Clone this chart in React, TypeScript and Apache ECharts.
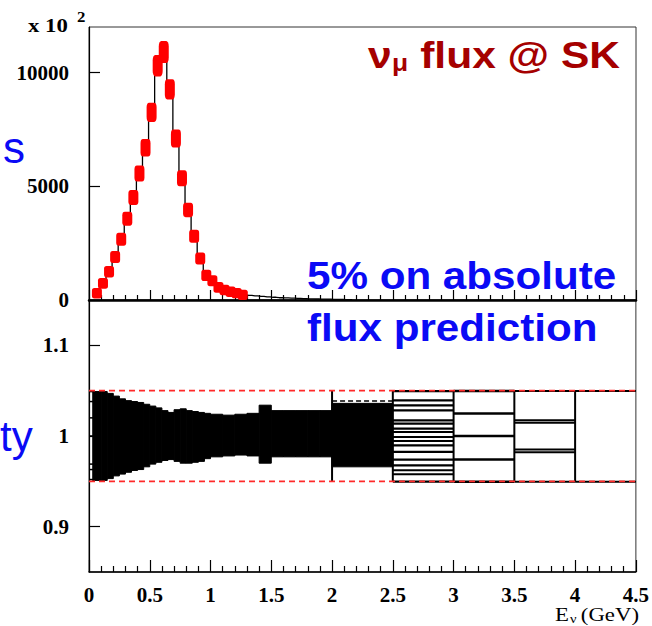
import React, { useEffect, useRef } from 'react';
import * as echarts from 'echarts';

// ---------- data ----------
const xTickValues = [0, 0.5, 1, 1.5, 2, 2.5, 3, 3.5, 4, 4.5];
const fluxTickLabels = [0, 5000, 10000];
const ratioTickLabels = [0.9, 1, 1.1];

// flux histogram (x 10^2), bin centres in GeV
const fluxCenters = [0.065, 0.115, 0.165, 0.215, 0.265, 0.315, 0.365, 0.415, 0.465, 0.515, 0.565, 0.615, 0.665, 0.715, 0.765, 0.815, 0.865, 0.915, 0.965, 1.015, 1.065, 1.115, 1.165, 1.215, 1.265];
const fluxValues = [295, 734, 1244, 1890, 2668, 3570, 4510, 5560, 6690, 8250, 10300, 10900, 9262, 7100, 5350, 3956, 2800, 1820, 1080, 850, 557, 440, 366, 300, 230];
const tailCenters = [1.315, 1.365, 1.415, 1.465, 1.515, 1.565, 1.615, 1.665, 1.715, 1.765, 1.815, 1.865, 1.915, 1.965, 2.015, 2.065, 2.115, 2.165];
const tailValues = [200, 180, 160, 140, 120, 100, 90, 80, 70, 60, 50, 45, 40, 35, 30, 25, 20, 15];

// ratio band: bin edges and envelope of the variations
const bandEdges = [0.035, 0.1, 0.15, 0.2, 0.25, 0.3, 0.35, 0.4, 0.45, 0.5, 0.55, 0.6, 0.65, 0.7, 0.75, 0.8, 0.85, 0.9, 0.95, 1.0, 1.1, 1.2, 1.3, 1.4, 1.5, 1.6, 1.7, 1.8, 1.9, 2.0, 2.5];
const bandHigh = [1.049, 1.049, 1.047, 1.044, 1.041, 1.039, 1.038, 1.037, 1.035, 1.033, 1.031, 1.028, 1.026, 1.029, 1.030, 1.028, 1.027, 1.026, 1.025, 1.024, 1.023, 1.024, 1.025, 1.034, 1.028, 1.028, 1.028, 1.028, 1.028, 1.036];
const bandLow = [0.951, 0.951, 0.953, 0.956, 0.958, 0.960, 0.962, 0.963, 0.966, 0.969, 0.971, 0.973, 0.974, 0.972, 0.970, 0.970, 0.971, 0.972, 0.975, 0.977, 0.978, 0.979, 0.978, 0.970, 0.977, 0.977, 0.977, 0.977, 0.977, 0.966];

// wide bins: individual variation levels
const firstBin = [0, 0.035];
const firstBinLevels = [1.049, 1.038, 1.02, 1.0, 0.969, 0.963, 0.952];
const bin2530 = [2.5, 3.0];
const levels2530 = [1.0496, 1.0394, 1.0338, 1.0283, 1.0173, 1.0136, 1.0081, 1.0044, 0.9989, 0.9945, 0.9897, 0.9824, 0.974, 0.9677, 0.9622, 0.9578, 0.9496];
const bin3035 = [3.0, 3.5];
const levels3035 = [1.0496, 1.0247, 1.0, 0.974, 0.9496];
const bin3540 = [3.5, 4.0];
const levels3540 = [1.0496, 1.0173, 1.0147, 0.985, 0.982, 0.9496];
const bin4045 = [4.0, 4.5];
const levels4045 = [1.0496, 0.9496];
const dashedBin = [2.0, 2.5];
const dashedLevels = [1.0385];
const boxEdges = [2.0, 2.5, 3.0, 3.5, 4.0];
const systLimits = [0.95, 1.05];

const SERIF = '"Liberation Serif", "Times New Roman", serif';
const SANS = '"Liberation Sans", Arial, sans-serif';

export default function App() {
  const ref = useRef<HTMLDivElement>(null);

  useEffect(() => {
    if (!ref.current) return;
    const chart = echarts.init(ref.current, undefined, { renderer: 'svg' });

    const lineData = fluxCenters.map((x, i) => [x, fluxValues[i]]).concat(tailCenters.map((x, i) => [x, tailValues[i]]));
    const markerData = fluxCenters.map((x, i) => [x, fluxValues[i]]);
    const bandData = bandHigh.map((h, i) => [bandEdges[i], bandEdges[i + 1], bandLow[i], h]);

    const hLines: number[][] = [];
    const addLevels = (bin: number[], levels: number[], w: number, dashed = 0) => levels.forEach((y) => hLines.push([bin[0], bin[1], y, w, dashed]));
    addLevels(firstBin, firstBinLevels, 1.5);
    addLevels(bin2530, levels2530, 2.2);
    addLevels(bin3035, levels3035, 2.5);
    addLevels(bin3540, levels3540, 2);
    addLevels(bin4045, levels4045, 2);
    addLevels(dashedBin, dashedLevels, 1.5, 1);
    const vLines = boxEdges.map((x) => [x, systLimits[0], systLimits[1]]);
    vLines.push([firstBin[1], systLimits[0], systLimits[1]]);

    const tickCommon = {
      axisLine: { onZero: false, lineStyle: { color: '#000', width: 1.2 } },
      splitLine: { show: false },
    };
    const labelFont = { fontFamily: SERIF, fontWeight: 'bold', fontSize: 21, color: '#000' };

    const option: any = {
      animation: false,
      backgroundColor: '#fff',
      grid: [
        { left: 89, top: 27, width: 547, height: 273, show: true, borderColor: '#333', borderWidth: 1 },
        { left: 89, top: 300, width: 547, height: 272, show: true, borderColor: '#333', borderWidth: 1 },
      ],
      xAxis: [
        {
          gridIndex: 0, type: 'value', min: 0, max: 4.5, interval: 0.5,
          ...tickCommon,
          axisLine: { onZero: false, lineStyle: { color: '#000', width: 2.5 } },
          axisTick: { inside: true, length: 10, lineStyle: { color: '#000', width: 1.2 } },
          minorTick: { show: true, splitNumber: 5, length: 5, lineStyle: { color: '#000', width: 1.2 } },
          axisLabel: { show: false },
        },
        {
          gridIndex: 1, type: 'value', min: 0, max: 4.5, interval: 0.5,
          ...tickCommon,
          axisLine: { onZero: false, lineStyle: { color: '#000', width: 1.5 } },
          axisTick: { inside: true, length: 12, lineStyle: { color: '#000', width: 1.2 } },
          minorTick: { show: true, splitNumber: 5, length: 6, lineStyle: { color: '#000', width: 1.2 } },
          axisLabel: { show: true, margin: 12, ...labelFont, customValues: xTickValues, formatter: (v: number) => String(v) },
        },
      ],
      yAxis: [
        {
          gridIndex: 0, type: 'value', min: 0, max: 12000,
          ...tickCommon,
          axisTick: { inside: true, length: 11, customValues: fluxTickLabels, lineStyle: { color: '#000', width: 1.2 } },
          axisLabel: { margin: 20, ...labelFont, customValues: fluxTickLabels, formatter: (v: number) => String(v) },
        },
        {
          gridIndex: 1, type: 'value', min: 0.85, max: 1.15,
          ...tickCommon,
          axisTick: { inside: true, length: 11, customValues: ratioTickLabels, lineStyle: { color: '#000', width: 1.2 } },
          axisLabel: { margin: 20, ...labelFont, customValues: ratioTickLabels, formatter: (v: number) => String(Math.round(v * 10) / 10) },
        },
      ],
      series: [
        {
          type: 'line', xAxisIndex: 0, yAxisIndex: 0, data: lineData, step: 'middle',
          symbol: 'none', lineStyle: { color: '#000', width: 1.3 }, z: 2,
        },
        {
          type: 'scatter', xAxisIndex: 0, yAxisIndex: 0, data: markerData,
          symbol: 'roundRect', symbolSize: (v: number[]) => [10, 10 + v[1] / 900],
          itemStyle: { color: '#ff0000', opacity: 1 }, z: 3,
        },
        {
          type: 'custom', xAxisIndex: 1, yAxisIndex: 1, data: bandData, z: 2,
          renderItem: (params: any, api: any) => {
            const p0 = api.coord([api.value(0), api.value(3)]);
            const p1 = api.coord([api.value(1), api.value(2)]);
            return {
              type: 'rect',
              shape: { x: p0[0], y: p0[1], width: p1[0] - p0[0], height: p1[1] - p0[1] },
              style: { fill: '#000', stroke: '#000', lineWidth: 1 },
            };
          },
        },
        {
          type: 'custom', xAxisIndex: 1, yAxisIndex: 1, data: hLines, z: 3,
          renderItem: (params: any, api: any) => {
            const p0 = api.coord([api.value(0), api.value(2)]);
            const p1 = api.coord([api.value(1), api.value(2)]);
            const dashed = api.value(4) === 1;
            return {
              type: 'line',
              shape: { x1: p0[0], y1: p0[1], x2: p1[0], y2: p1[1] },
              style: { stroke: '#000', lineWidth: api.value(3), lineDash: dashed ? [5, 3] : null },
            };
          },
        },
        {
          type: 'custom', xAxisIndex: 1, yAxisIndex: 1, data: vLines, z: 3,
          renderItem: (params: any, api: any) => {
            const p0 = api.coord([api.value(0), api.value(1)]);
            const p1 = api.coord([api.value(0), api.value(2)]);
            return { type: 'line', shape: { x1: p0[0], y1: p0[1], x2: p1[0], y2: p1[1] }, style: { stroke: '#000', lineWidth: 2 } };
          },
        },
        ...systLimits.map((y) => ({
          type: 'line', xAxisIndex: 1, yAxisIndex: 1, data: [[0, y], [4.5, y]], symbol: 'none', z: 5,
          lineStyle: { color: '#ff2a2a', width: 1.6, type: [6, 4] },
        })),
      ],
      graphic: [
        { type: 'text', x: 28, y: 25.6, scaleX: 1.2, style: { text: 'x 10', fontFamily: SERIF, fontWeight: 'bold', fontSize: 19, fill: '#000', align: 'left', verticalAlign: 'middle' } },
        { type: 'text', x: 77, y: 17.3, scaleX: 1.2, style: { text: '2', fontFamily: SERIF, fontWeight: 'bold', fontSize: 14, fill: '#000', align: 'left', verticalAlign: 'middle' } },
        { type: 'text', x: 368, y: 55, scaleX: 1.15, style: { text: 'ν', fontFamily: SANS, fontWeight: 'bold', fontSize: 37, fill: '#a50000', align: 'left', verticalAlign: 'middle' } },
        { type: 'text', x: 392, y: 62, scaleX: 1.1, style: { text: 'μ', fontFamily: SANS, fontWeight: 'bold', fontSize: 24, fill: '#a50000', align: 'left', verticalAlign: 'middle' } },
        { type: 'text', x: 620, y: 55, scaleX: 1.15, style: { text: 'flux @ SK', fontFamily: SANS, fontWeight: 'bold', fontSize: 37, fill: '#a50000', align: 'right', verticalAlign: 'middle' } },
        { type: 'text', x: 307, y: 276.7, scaleX: 1.11, style: { text: '5% on absolute', fontFamily: SANS, fontWeight: 'bold', fontSize: 38, fill: '#0a0af5', align: 'left', verticalAlign: 'middle' } },
        { type: 'text', x: 307, y: 328.7, scaleX: 1.11, style: { text: 'flux prediction', fontFamily: SANS, fontWeight: 'bold', fontSize: 38, fill: '#0a0af5', align: 'left', verticalAlign: 'middle' } },
        { type: 'text', x: 3, y: 147.6, style: { text: 's', fontFamily: SANS, fontSize: 44, fill: '#0a0af5', align: 'left', verticalAlign: 'middle' } },
        { type: 'text', x: 0, y: 436, style: { text: 'ty', fontFamily: SANS, fontSize: 42, fill: '#0a0af5', align: 'left', verticalAlign: 'middle' } },
        { type: 'text', x: 555, y: 614.5, scaleX: 1.2, style: { text: 'E', fontFamily: SERIF, fontSize: 19, fill: '#000', align: 'left', verticalAlign: 'middle' } },
        { type: 'text', x: 570, y: 619, scaleX: 1.2, style: { text: 'ν', fontFamily: SERIF, fontSize: 12, fill: '#000', align: 'left', verticalAlign: 'middle' } },
        { type: 'text', x: 639, y: 614.5, scaleX: 1.2, style: { text: '(GeV)', fontFamily: SERIF, fontSize: 19, fill: '#000', align: 'right', verticalAlign: 'middle' } },
      ],
    };

    chart.setOption(option);
    return () => chart.dispose();
  }, []);

  return <div ref={ref} style={{ position: 'fixed', left: 0, top: 0, width: 652, height: 626, background: '#fff' }} />;
}
